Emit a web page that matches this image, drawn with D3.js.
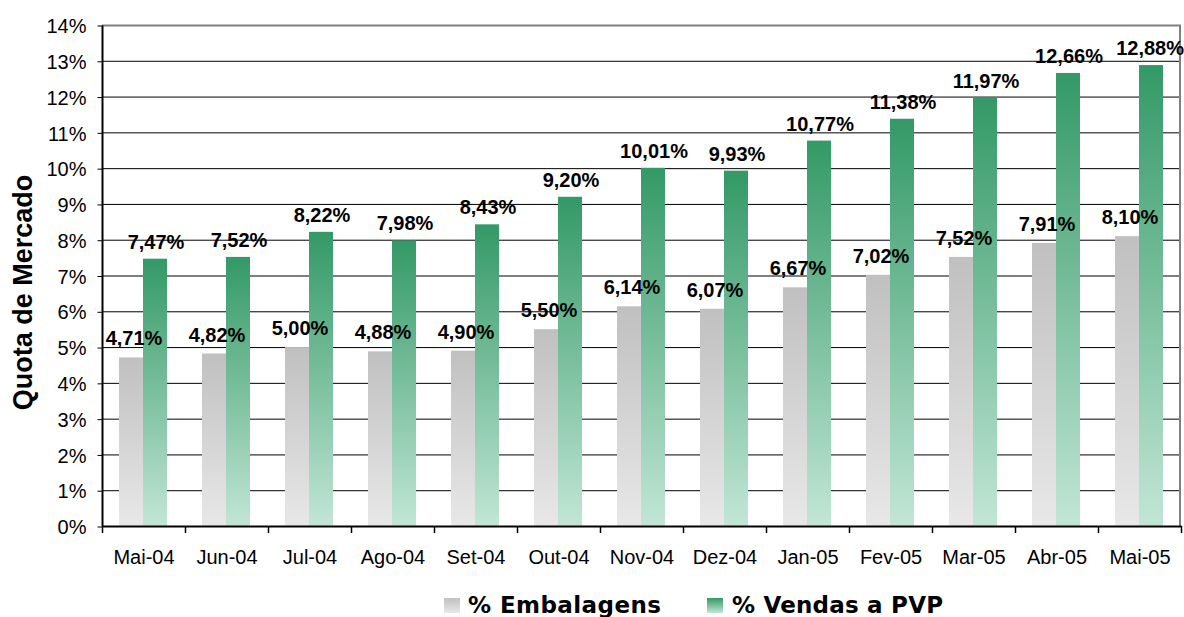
<!DOCTYPE html>
<html><head><meta charset="utf-8">
<script src="https://cdn.jsdelivr.net/npm/d3@7"></script>
<style>body{margin:0;background:#fff}svg{display:block}</style>
</head><body>
<svg id="c" width="1184" height="617"></svg>
<script>
const categories = ["Mai-04","Jun-04","Jul-04","Ago-04","Set-04","Out-04","Nov-04","Dez-04","Jan-05","Fev-05","Mar-05","Abr-05","Mai-05"];
const embalagens = [4.71,4.82,5.00,4.88,4.90,5.50,6.14,6.07,6.67,7.02,7.52,7.91,8.10];
const vendas = [7.47,7.52,8.22,7.98,8.43,9.20,10.01,9.93,10.77,11.38,11.97,12.66,12.88];
const yTicks = [0,1,2,3,4,5,6,7,8,9,10,11,12,13,14];
const seriesNames = ["% Embalagens","% Vendas a PVP"];
const yTitle = "Quota de Mercado";

const W = 1184;
const svg = d3.select("#c");
const L = 102, R = 1181, T = 25, B = 526;
const x = d3.scaleBand().domain(categories).range([L, R]).paddingInner(0).paddingOuter(0);
const y = d3.scaleLinear().domain([0, 14]).range([B, T]);
const fmt = v => v.toFixed(2).replace(".", ",") + "%";
const lf = "Arial, 'Liberation Sans', sans-serif";

const defs = svg.append("defs");
function grad(id, top, bot){
  const g = defs.append("linearGradient").attr("id", id).attr("x1",0).attr("y1",0).attr("x2",0).attr("y2",1);
  g.append("stop").attr("offset","0%").attr("stop-color",top);
  g.append("stop").attr("offset","100%").attr("stop-color",bot);
}
grad("gGray", "#c0c0c0", "#e8e8e8");
grad("gGreen", "#339966", "#c2e6d6");

// gridlines
svg.append("g").selectAll("line").data(yTicks.filter(d=>d>0)).join("line")
  .attr("x1", L).attr("x2", R).attr("y1", d=>y(d)+0.5).attr("y2", d=>y(d)+0.5)
  .attr("stroke", d=> d===14 ? "#808080" : "#000").attr("stroke-width", d=> d===14 ? 2 : 1);
svg.append("line").attr("x1", R-1).attr("x2", R-1).attr("y1", T).attr("y2", B)
  .attr("stroke", "#808080").attr("stroke-width", 2);

// bars
const off = 17, bw = 24;
const gb = svg.append("g");
gb.selectAll("rect.e").data(categories).join("rect").attr("class","e")
  .attr("x", d=>x(d)+off).attr("width", bw)
  .attr("y", (d,i)=>y(embalagens[i])).attr("height", (d,i)=>B - y(embalagens[i]))
  .attr("fill", "url(#gGray)");
gb.selectAll("rect.v").data(categories).join("rect").attr("class","v")
  .attr("x", d=>x(d)+off+bw).attr("width", bw)
  .attr("y", (d,i)=>y(vendas[i])).attr("height", (d,i)=>B - y(vendas[i]))
  .attr("fill", "url(#gGreen)");

// axes
const yAxis = d3.axisLeft(y).tickValues(yTicks).tickFormat(d=>d+"%").tickSize(5).tickPadding(11);
const ga = svg.append("g").attr("transform", `translate(${L+0.5},0.5)`).call(yAxis);
ga.attr("font-size", null).attr("font-family", null);
ga.select(".domain").attr("stroke","#000").attr("stroke-width",2).attr("d", `M0,${T}V${B}`);
ga.selectAll("text").style("font-family",lf).style("font-size","20px").attr("fill","#000").attr("dy","0.36em");
const xAxis = d3.axisBottom(x).tickSize(0).tickPadding(0);
const gx = svg.append("g").attr("transform", `translate(0.5,${B+0.5})`).call(xAxis);
gx.attr("font-size", null).attr("font-family", null);
gx.select(".domain").attr("stroke","#000").attr("stroke-width",2).attr("d", `M${L},0H${R}`);
gx.selectAll(".tick line").remove();
gx.selectAll(".tick text").style("font-family",lf).style("font-size","20px").attr("fill","#000").attr("y", 37).attr("dy", 0);
// tick marks at band boundaries
svg.append("g").selectAll("line").data(categories.concat(["__end"])).join("line")
  .attr("x1", (d,i)=> L + i*x.step() + 0.5).attr("x2", (d,i)=> L + i*x.step() + 0.5)
  .attr("y1", B).attr("y2", B+7).attr("stroke","#000").attr("stroke-width",1.5);

// labels
function clampX(sel){
  sel.each(function(){
    const w = this.getComputedTextLength();
    const cx = +this.getAttribute("x");
    if (cx + w/2 > W) this.setAttribute("x", W - w/2);
  });
}
svg.append("g").selectAll("text").data(categories).join("text")
  .attr("x", d=>x(d)+off+bw/2+3).attr("y", (d,i)=>y(embalagens[i]) - 12)
  .attr("text-anchor","middle").style("font-family",lf).attr("font-weight","bold").style("font-size","20px")
  .text((d,i)=>fmt(embalagens[i])).call(clampX);
svg.append("g").selectAll("text").data(categories).join("text")
  .attr("x", d=>x(d)+off+bw*1.5+1).attr("y", (d,i)=>y(vendas[i]) - 10)
  .attr("text-anchor","middle").style("font-family",lf).attr("font-weight","bold").style("font-size","20px")
  .text((d,i)=>fmt(vendas[i])).call(clampX);

// y title
svg.append("text").attr("transform","translate(31.5,292.5) rotate(-90)").attr("text-anchor","middle")
  .style("font-family",lf).attr("font-weight","bold").style("font-size","27px").text(yTitle);

// legend
const lg = svg.append("g");
const items = [
  {n:seriesNames[0], f:"url(#gGray)", x:444, tx:468, tw:193},
  {n:seriesNames[1], f:"url(#gGreen)", x:707, tx:732, tw:211}
];
items.forEach(it=>{
  lg.append("rect").attr("x", it.x).attr("y", 598).attr("width", 16).attr("height", 15).attr("fill", it.f);
  lg.append("text").attr("x", it.tx).attr("y", 613).style("font-family","Verdana, 'DejaVu Sans', sans-serif")
    .attr("font-weight","bold").style("font-size","23px")
    .attr("textLength", it.tw).attr("lengthAdjust","spacing").text(it.n);
});
</script>
</body></html>
